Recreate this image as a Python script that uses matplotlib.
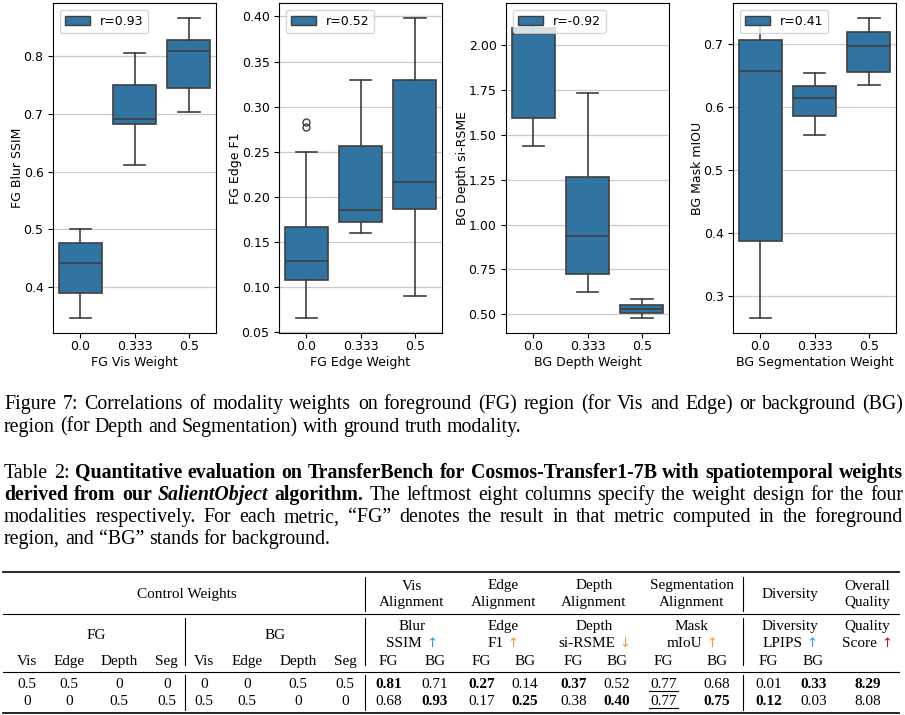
import numpy as np
import matplotlib.pyplot as plt
from matplotlib.patches import Patch
from matplotlib.lines import Line2D

# --- box statistics
weight_labels = ["0.0", "0.333", "0.5"]

ssim_lo  = [0.346, 0.611, 0.703]
ssim_q1  = [0.390, 0.682, 0.745]
ssim_med = [0.442, 0.691, 0.810]
ssim_q3  = [0.476, 0.751, 0.829]
ssim_hi  = [0.500, 0.805, 0.866]

f1_lo  = [0.065, 0.160, 0.090]
f1_q1  = [0.107, 0.172, 0.186]
f1_med = [0.129, 0.185, 0.216]
f1_q3  = [0.166, 0.256, 0.330]
f1_hi  = [0.250, 0.329, 0.398]
f1_fliers = [[0.277, 0.283], [], []]

rsme_lo  = [1.437, 0.626, 0.477]
rsme_q1  = [1.593, 0.725, 0.507]
rsme_med = [2.063, 0.937, 0.530]
rsme_q3  = [2.097, 1.263, 0.549]
rsme_hi  = [2.150, 1.733, 0.582]

miou_lo  = [0.265, 0.555, 0.634]
miou_q1  = [0.387, 0.585, 0.655]
miou_med = [0.656, 0.614, 0.696]
miou_q3  = [0.705, 0.633, 0.718]
miou_hi  = [0.735, 0.653, 0.740]

panel_ylabels = ["FG Blur SSIM", "FG Edge F1", "BG Depth si-RSME", "BG Mask mIOU"]
panel_xlabels = ["FG Vis Weight", "FG Edge Weight", "BG Depth Weight", "BG Segmentation Weight"]
panel_r = [0.93, 0.52, -0.92, 0.41]

# --- caption text
fig_caption = [
    [("Figure 7: Correlations of modality weights on foreground (FG) region (for Vis and Edge) or background (BG)", "normal", "normal")],
    [("region (for Depth and Segmentation) with ground truth modality.", "normal", "normal")],
]
table_caption = [
    [("Table 2:", "normal", "normal"),
     ("Quantitative evaluation on TransferBench for Cosmos-Transfer1-7B with spatiotemporal weights", "bold", "normal")],
    [("derived from our", "bold", "normal"), ("SalientObject", "bold", "italic"), ("algorithm.", "bold", "normal"),
     ("The leftmost eight columns specify the weight design for the four", "normal", "normal")],
    [("modalities respectively. For each metric, \u201cFG\u201d denotes the result in that metric computed in the foreground", "normal", "normal")],
    [("region, and \u201cBG\u201d stands for background.", "normal", "normal")],
]

# --- table content
weight_cols = ["Vis", "Edge", "Depth", "Seg"]
fg_weights = [["0.5", "0.5", "0", "0"], ["0", "0", "0.5", "0.5"]]
bg_weights = [["0", "0", "0.5", "0.5"], ["0.5", "0.5", "0", "0"]]
metric_groups = ["Vis\nAlignment", "Edge\nAlignment", "Depth\nAlignment",
                 "Segmentation\nAlignment", "Diversity", "Overall\nQuality"]
metric_top = ["Blur", "Edge", "Depth", "Mask", "Diversity", "Quality"]
metric_bottom = ["SSIM", "F1", "si-RSME", "mIoU", "LPIPS", "Score"]
metric_arrow = ["\u2191", "\u2191", "\u2193", "\u2191", "\u2191", "\u2191"]
higher_better = [True, True, False, True, True, True]
results = [
    [0.81, 0.71, 0.27, 0.14, 0.37, 0.52, 0.77, 0.68, 0.01, 0.33, 8.29],
    [0.68, 0.93, 0.17, 0.25, 0.38, 0.40, 0.77, 0.75, 0.12, 0.03, 8.08],
]

# --------------------------------------------------------
W, H = 905, 715
BOX = "#3274a1"
LINE = "#3f3f3f"
SERIF = ["Liberation Serif", "DejaVu Serif"]
plt.rcParams["font.size"] = 9

fig = plt.figure(figsize=(W / 100, H / 100), dpi=100)
renderer = fig.canvas.get_renderer()


def fxy(x, y):
    return x / W, 1 - y / H


panels = [
    (ssim_lo, ssim_q1, ssim_med, ssim_q3, ssim_hi, [[], [], []]),
    (f1_lo, f1_q1, f1_med, f1_q3, f1_hi, f1_fliers),
    (rsme_lo, rsme_q1, rsme_med, rsme_q3, rsme_hi, [[], [], []]),
    (miou_lo, miou_q1, miou_med, miou_q3, miou_hi, [[], [], []]),
]
lefts = [53.3, 279.3, 506.3, 733.3]

for i, (lo, q1, med, q3, hi, fl) in enumerate(panels):
    ax = fig.add_axes([lefts[i] / W, 1 - 333.3 / H, 162.5 / W, 330 / H])
    stats = [dict(whislo=lo[k], q1=q1[k], med=med[k], q3=q3[k], whishi=hi[k], fliers=fl[k])
             for k in range(3)]
    ax.bxp(stats, positions=[0, 1, 2], widths=0.8, capwidths=0.4, patch_artist=True,
           boxprops=dict(facecolor=BOX, edgecolor=LINE, linewidth=1.2),
           medianprops=dict(color=LINE, linewidth=1.2),
           whiskerprops=dict(color=LINE, linewidth=1.2),
           capprops=dict(color=LINE, linewidth=1.2),
           flierprops=dict(marker="o", markerfacecolor="none", markeredgecolor=LINE,
                           markersize=5, markeredgewidth=1.0))
    ax.set_xlim(-0.5, 2.5)
    ax.set_xticks([0, 1, 2])
    ax.set_xticklabels(weight_labels)
    ax.tick_params(axis="x", pad=1.2)
    ax.yaxis.grid(True, color="#cccccc", linewidth=0.9)
    ax.set_axisbelow(True)
    ax.set_ylabel(panel_ylabels[i], labelpad=0)
    ax.set_xlabel(panel_xlabels[i], labelpad=2)
    ax.legend(handles=[Patch(facecolor=BOX, edgecolor=LINE, label="r=%.2f" % panel_r[i])],
              loc="upper left")

# --- text helpers
def width_of(s, **kw):
    t = fig.text(0, 0, s, **kw)
    w = t.get_window_extent(renderer).width
    t.remove()
    return w


def put_line(segments, y, x0, x1, justify, size):
    words = []
    for txt, wt, st in segments:
        for w in txt.split(" "):
            words.append((w, dict(fontsize=size, fontweight=wt, fontstyle=st, family=SERIF)))
    widths = [width_of(w, **p) for w, p in words]
    p = words[0][1]
    space = width_of("x x", **p) - width_of("xx", **p)
    if justify:
        gap = max((x1 - x0 - sum(widths)) / (len(words) - 1), 0.6 * space)
    else:
        gap = space
    x = x0
    for (w, p), wd in zip(words, widths):
        fig.text(*fxy(x, y), w, ha="left", va="baseline", **p)
        x += wd + gap


def put_pieces(xc, y, pieces, size=11):
    # pieces: (text, color, family, size) placed side by side, centred on xc
    props = [dict(fontsize=sz, family=fam, color=c) for _, c, fam, sz in pieces]
    sp = width_of("x x", fontsize=size, family=SERIF) - width_of("xx", fontsize=size, family=SERIF)
    widths = [width_of(s, **p) for (s, _, _, _), p in zip(pieces, props)]
    total = sum(widths) + sp * (len(pieces) - 1)
    x = xc - total / 2
    for (s, _, _, _), p, wd in zip(pieces, props, widths):
        fig.text(*fxy(x, y), s, ha="left", va="baseline", **p)
        x += wd + sp


CAP = 14.3
for j, line in enumerate(fig_caption):
    put_line(line, 409.3 + 22.3 * j, 4, 903, j < len(fig_caption) - 1, CAP)
for j, line in enumerate(table_caption):
    put_line(line, 478.3 + 21.9 * j, 4, 903, j < len(table_caption) - 1, CAP)

# --- table
TS = 11
tkw = dict(fontsize=TS, family=SERIF, ha="center", va="baseline")


def hrule(y, lw):
    fig.add_artist(Line2D([3 / W, 899 / W], [1 - y / H] * 2, color="black", lw=lw))


def vrule(x, y0, y1):
    fig.add_artist(Line2D([x / W] * 2, [1 - y0 / H, 1 - y1 / H], color="black", lw=0.8))


hrule(572.3, 1.2)
hrule(614.0, 0.8)
hrule(671.7, 0.8)
hrule(713.3, 1.2)
for xv in [364.5, 743.3]:
    vrule(xv, 577, 611)
    vrule(xv, 618, 665)
    vrule(xv, 675, 710)
vrule(185, 618, 665)
vrule(185, 675, 710)

group_x = [411.7, 503.3, 594.0, 691.7, 790.0, 867.3]
weight_x = [26.7, 69, 119, 166.7, 204, 246.7, 297.7, 345]
value_x = [388.3, 435, 481.7, 525, 573.3, 616.7, 663.3, 716.7, 768.3, 813.3, 867.3]
arrow_colors = ["#2a9fd6", "#f0a030", "#f0a030", "#f0a030", "#2a9fd6", "#a3195b"]

fig.text(*fxy(186.7, 598.3), "Control Weights", **tkw)
for g, xg in zip(metric_groups, group_x):
    parts = g.split("\n")
    if len(parts) == 1:
        fig.text(*fxy(xg, 598.3), parts[0], **tkw)
    else:
        fig.text(*fxy(xg, 589.5), parts[0], **tkw)
        fig.text(*fxy(xg, 606.2), parts[1], **tkw)

fig.text(*fxy(96.7, 639.0), "FG", **tkw)
fig.text(*fxy(275.0, 639.0), "BG", **tkw)
for k in range(6):
    fig.text(*fxy(group_x[k], 630.0), metric_top[k], **tkw)
    put_pieces(group_x[k], 647.0, [(metric_bottom[k], "black", SERIF, TS),
                                   (metric_arrow[k], arrow_colors[k], ["DejaVu Sans"], 9.5)], TS)

for k, xw in enumerate(weight_x):
    fig.text(*fxy(xw, 665.0), weight_cols[k % 4], **tkw)
for k, xv in enumerate(value_x[:10]):
    fig.text(*fxy(xv, 665.0), "FG" if k % 2 == 0 else "BG", **tkw)

row_y = [687.7, 705.2]
vals = np.array(results)
for r in range(2):
    for k, xw in enumerate(weight_x):
        w = (fg_weights[r] + bg_weights[r])[k]
        fig.text(*fxy(xw, row_y[r]), w, **tkw)
    for k, xv in enumerate(value_x):
        col = vals[:, k]
        hb = higher_better[min(k // 2, 5)]
        best = col.max() if hb else col.min()
        tie = np.sum(col == best) > 1
        is_best = vals[r, k] == best
        weight = "bold" if (is_best and not tie) else "normal"
        t = fig.text(*fxy(xv, row_y[r]), "%.2f" % vals[r, k], fontweight=weight, **tkw)
        if is_best and tie:
            bb = t.get_window_extent(renderer)
            fig.add_artist(Line2D([(bb.x0 - 1) / W, (bb.x1 + 1) / W],
                                  [1 - (row_y[r] + 2.8) / H] * 2, color="black", lw=0.8))

fig.savefig("out.png", dpi=100)
